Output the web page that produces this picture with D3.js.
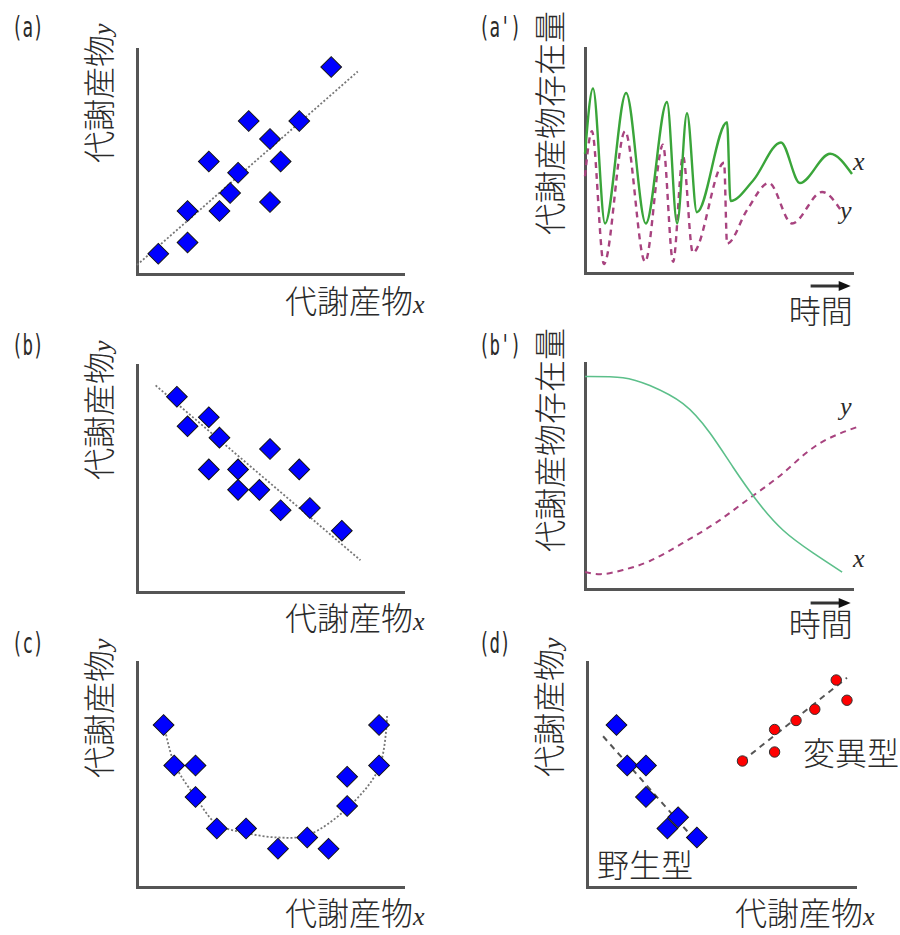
<!DOCTYPE html>
<html>
<head>
<meta charset="utf-8">
<script src="https://cdn.jsdelivr.net/npm/d3@7"></script>
<style>
  body { margin: 0; background: #fff; }
  svg { display: block; }
</style>
</head>
<body>
<div id="chart"></div>
<script>
"use strict";

// (a) positive correlation
const aX = [0.8, 1.9, 1.9, 3.1, 3.5, 2.7, 3.8, 5.0, 5.4, 5.0, 4.2, 6.1, 7.3];
const aY = [0.9, 1.4, 2.8, 2.8, 3.6, 5.0, 4.5, 3.2, 5.0, 6.0, 6.8, 6.8, 9.2];
const aTrendX = [0.0, 8.3];
const aTrendY = [0.4, 9.0];

// (b) negative correlation
const bX = [1.5, 1.9, 2.7, 3.1, 2.7, 3.8, 5.0, 6.1, 3.8, 4.6, 5.4, 6.5, 7.7];
const bY = [8.6, 7.3, 7.7, 6.8, 5.4, 5.4, 6.3, 5.4, 4.5, 4.5, 3.6, 3.7, 2.7];
const bTrendX = [0.7, 8.4];
const bTrendY = [9.1, 1.4];

// (c) U-shaped relation
const cX = [1.0, 1.4, 2.2, 2.2, 3.0, 4.1, 5.3, 6.4, 7.2, 7.9, 7.9, 9.1, 9.1];
const cY = [7.2, 5.4, 5.4, 4.0, 2.6, 2.6, 1.7, 2.2, 1.7, 3.6, 4.9, 5.4, 7.2];
const cCurveX = [1.0, 1.4, 2.2, 3.0, 4.1, 5.3, 6.4, 7.9, 9.1, 9.4];
const cCurveY = [7.3, 5.5, 4.0, 2.8, 2.4, 2.2, 2.3, 3.5, 5.3, 7.6];

// (d) wild type vs mutant
const dWildX = [1.1, 1.5, 2.2, 2.2, 3.4, 3.0, 4.1];
const dWildY = [7.2, 5.4, 5.4, 4.0, 3.1, 2.6, 2.2];
const dWildLineX = [0.6, 3.8];
const dWildLineY = [6.7, 2.4];
const dMutX = [5.8, 7.0, 7.0, 7.8, 8.5, 9.3, 9.7];
const dMutY = [5.6, 6.0, 7.0, 7.4, 7.9, 9.2, 8.3];
const dMutLineX = [5.8, 9.7];
const dMutLineY = [5.6, 9.3];

// (a') oscillating amounts over time
const apXTime = [0.0, 0.30, 0.75, 1.54, 2.28, 3.07, 3.45, 3.82, 4.19, 5.32, 5.45, 6.29, 7.34, 8.05, 9.18, 10.0];
const apXVal = [5.3, 8.2, 2.2, 8.0, 2.2, 7.6, 2.2, 7.1, 2.7, 6.7, 3.2, 4.1, 5.8, 4.0, 5.3, 4.4];
const apYTime = [0.0, 0.26, 0.71, 1.50, 2.25, 2.92, 3.30, 3.67, 4.04, 5.21, 5.32, 6.07, 6.89, 7.75, 8.88, 9.63];
const apYVal = [4.3, 6.3, 0.4, 6.3, 0.5, 5.7, 0.5, 5.2, 0.9, 4.9, 1.3, 2.8, 4.0, 2.2, 3.6, 2.7];

// (b') conversion of x into y over time
const bpXTime = [0.0, 1.42, 2.43, 3.67, 4.68, 5.54, 6.44, 7.42, 8.54, 9.63];
const bpXVal = [9.4, 9.35, 9.0, 8.2, 6.9, 5.4, 3.9, 2.6, 1.6, 0.75];
const bpYTime = [0.0, 0.64, 1.42, 2.43, 3.67, 4.94, 6.18, 7.42, 8.69, 10.2];
const bpYVal = [0.75, 0.66, 0.84, 1.24, 2.04, 2.96, 4.03, 5.13, 6.37, 7.17];

const TAGS = ["(a)", "(a')", "(b)", "(b')", "(c)", "(d)"];
const METAB = "代謝産物";
const AMOUNT = "代謝産物存在量";
const TIME = "時間";
const WILD = "野生型";
const MUTANT = "変異型";

const CJK = "'Noto Sans CJK JP', sans-serif";
const SERIF = "'Liberation Serif', serif";
const INK = "#2a2a2a";

function _main() {
  const svg = d3.select("#chart").append("svg").attr("width", 900).attr("height", 935);

  const boxes = {
    a: { left: 137, top: 49, width: 266, height: 225 },
    ap: { left: 585, top: 48, width: 267, height: 225 },
    b: { left: 137, top: 365, width: 266, height: 227 },
    bp: { left: 585, top: 363, width: 267, height: 226 },
    c: { left: 137, top: 662, width: 266, height: 225 },
    d: { left: 587, top: 662, width: 268, height: 225 },
  };

  // (a)
  let p = makePanel(svg, boxes.a);
  addLine(p, aTrendX, aTrendY, d3.curveLinear).attr("stroke", "#777").attr("stroke-width", 1.8).attr("stroke-dasharray", "2,2");
  addDiamonds(p, aX, aY);
  addTag(svg, TAGS[0], 12, 37);
  addYLabel(svg, METAB, "y", 111, 163);
  addXLabel(svg, METAB, "x", 285, 313);

  // (a')
  p = makePanel(svg, boxes.ap);
  addLine(p, apYTime, apYVal, d3.curveMonotoneX).attr("stroke", "#a8437f").attr("stroke-width", 2.4).attr("stroke-dasharray", "6,5");
  addLine(p, apXTime, apXVal, d3.curveMonotoneX).attr("stroke", "#3aa53a").attr("stroke-width", 2.4);
  addTag(svg, TAGS[1], 479, 37);
  addYLabel(svg, AMOUNT, null, 562, 235);
  addItalic(svg, "x", 853, 170);
  addItalic(svg, "y", 840, 219);
  addTimeArrow(svg, p, 286, 323);

  // (b)
  p = makePanel(svg, boxes.b);
  addLine(p, bTrendX, bTrendY, d3.curveLinear).attr("stroke", "#777").attr("stroke-width", 1.8).attr("stroke-dasharray", "2,2");
  addDiamonds(p, bX, bY);
  addTag(svg, TAGS[2], 12, 355);
  addYLabel(svg, METAB, "y", 111, 480);
  addXLabel(svg, METAB, "x", 285, 630);

  // (b')
  p = makePanel(svg, boxes.bp);
  addLine(p, bpYTime, bpYVal, d3.curveNatural).attr("stroke", "#a8437f").attr("stroke-width", 2).attr("stroke-dasharray", "6,5");
  addLine(p, bpXTime, bpXVal, d3.curveNatural).attr("stroke", "#5cbf8a").attr("stroke-width", 1.6);
  addTag(svg, TAGS[3], 479, 355);
  addYLabel(svg, AMOUNT, null, 562, 552);
  addItalic(svg, "y", 840, 415);
  addItalic(svg, "x", 853, 567);
  addTimeArrow(svg, p, 603, 636);

  // (c)
  p = makePanel(svg, boxes.c);
  addLine(p, cCurveX, cCurveY, d3.curveCatmullRom).attr("stroke", "#777").attr("stroke-width", 1.8).attr("stroke-dasharray", "2,2");
  addDiamonds(p, cX, cY);
  addTag(svg, TAGS[4], 12, 653);
  addYLabel(svg, METAB, "y", 111, 778);
  addXLabel(svg, METAB, "x", 285, 925);

  // (d)
  p = makePanel(svg, boxes.d);
  addLine(p, dWildLineX, dWildLineY, d3.curveLinear).attr("stroke", "#555").attr("stroke-width", 2).attr("stroke-dasharray", "6,5");
  addLine(p, dMutLineX, dMutLineY, d3.curveLinear).attr("stroke", "#555").attr("stroke-width", 2).attr("stroke-dasharray", "6,5");
  addDiamonds(p, dWildX, dWildY);
  addCircles(p, dMutX, dMutY);
  addTag(svg, TAGS[5], 479, 653);
  addYLabel(svg, METAB, "y", 561, 777);
  addXLabel(svg, METAB, "x", 735, 925);
  addPlain(svg, WILD, 597, 877);
  addPlain(svg, MUTANT, 803, 765);
}

function makePanel(svg, box) {
  const x = d3.scaleLinear().domain([0, 10]).range([box.left, box.left + box.width]);
  const y = d3.scaleLinear().domain([0, 10]).range([box.top + box.height, box.top]);
  const g = svg.append("g");

  // Axes as bare lines: no ticks
  g.append("g")
    .attr("class", "axis")
    .attr("transform", `translate(0, ${box.top + box.height})`)
    .call(d3.axisBottom(x).tickValues([]).tickSizeOuter(0));
  g.append("g")
    .attr("class", "axis")
    .attr("transform", `translate(${box.left}, 0)`)
    .call(d3.axisLeft(y).tickValues([]).tickSizeOuter(0));
  g.selectAll(".axis .domain").attr("stroke", "#555").attr("stroke-width", 3).attr("stroke-linecap", "square");

  return { g, x, y };
}

function addLine(p, xs, ys, curve) {
  const data = xs.map((v, i) => ({ x: v, y: ys[i] }));
  const lineGenerator = d3
    .line()
    .x((d) => p.x(d.x))
    .y((d) => p.y(d.y))
    .curve(curve);
  return p.g.append("path").datum(data).attr("d", lineGenerator).attr("fill", "none");
}

function addDiamonds(p, xs, ys) {
  const data = xs.map((v, i) => ({ x: v, y: ys[i] }));
  const symbol = d3.symbol(d3.symbolSquare, 215);
  p.g
    .selectAll(null)
    .data(data)
    .enter()
    .append("path")
    .attr("d", symbol)
    .attr("transform", (d) => `translate(${p.x(d.x)}, ${p.y(d.y)}) rotate(45)`)
    .attr("fill", "#0000ff")
    .attr("stroke", "#111")
    .attr("stroke-width", 1);
}

function addCircles(p, xs, ys) {
  const data = xs.map((v, i) => ({ x: v, y: ys[i] }));
  p.g
    .selectAll(null)
    .data(data)
    .enter()
    .append("circle")
    .attr("cx", (d) => p.x(d.x))
    .attr("cy", (d) => p.y(d.y))
    .attr("r", 5.2)
    .attr("fill", "#ff0000")
    .attr("stroke", "#333")
    .attr("stroke-width", 1);
}

function addTag(svg, label, x, y) {
  svg
    .append("text")
    .attr("x", x)
    .attr("y", y)
    .attr("font-family", "'DejaVu Sans Mono', monospace")
    .attr("font-size", 28)
    .attr("textLength", label.length * 10.5)
    .attr("lengthAdjust", "spacingAndGlyphs")
    .attr("fill", INK)
    .text(label);
}

function addYLabel(svg, label, suffix, x, y) {
  const t = svg
    .append("text")
    .attr("transform", `translate(${x}, ${y}) rotate(-90)`)
    .attr("font-family", CJK)
    .attr("font-size", 32)
    .attr("font-weight", 300)
    .attr("fill", INK);
  t.append("tspan").text(label);
  if (suffix) {
    t.append("tspan").attr("font-family", SERIF).attr("font-style", "italic").attr("font-size", 26).text(suffix);
  }
}

function addXLabel(svg, label, suffix, x, y) {
  const t = svg
    .append("text")
    .attr("x", x)
    .attr("y", y)
    .attr("font-family", CJK)
    .attr("font-size", 32)
    .attr("font-weight", 300)
    .attr("fill", INK);
  t.append("tspan").text(label);
  t.append("tspan").attr("font-family", SERIF).attr("font-style", "italic").attr("font-size", 26).text(suffix);
}

function addItalic(svg, label, x, y) {
  svg
    .append("text")
    .attr("x", x)
    .attr("y", y)
    .attr("font-family", SERIF)
    .attr("font-style", "italic")
    .attr("font-size", 26)
    .attr("fill", INK)
    .text(label);
}

function addPlain(svg, label, x, y) {
  svg
    .append("text")
    .attr("x", x)
    .attr("y", y)
    .attr("font-family", CJK)
    .attr("font-size", 32)
    .attr("font-weight", 300)
    .attr("fill", INK)
    .text(label);
}

function addTimeArrow(svg, p, arrowY, textY) {
  const x0 = p.x(8.45);
  const x1 = p.x(9.95);
  svg
    .append("line")
    .attr("x1", x0)
    .attr("x2", x1 - 10)
    .attr("y1", arrowY)
    .attr("y2", arrowY)
    .attr("stroke", "#333")
    .attr("stroke-width", 3);
  svg
    .append("path")
    .attr("d", `M${x1 - 12},${arrowY - 5}L${x1},${arrowY}L${x1 - 12},${arrowY + 5}Z`)
    .attr("fill", "#111");
  svg
    .append("text")
    .attr("x", x1 + 2)
    .attr("y", textY)
    .attr("text-anchor", "end")
    .attr("font-family", CJK)
    .attr("font-size", 32)
    .attr("font-weight", 300)
    .attr("fill", INK)
    .text(TIME);
}

_main();
</script>
</body>
</html>
